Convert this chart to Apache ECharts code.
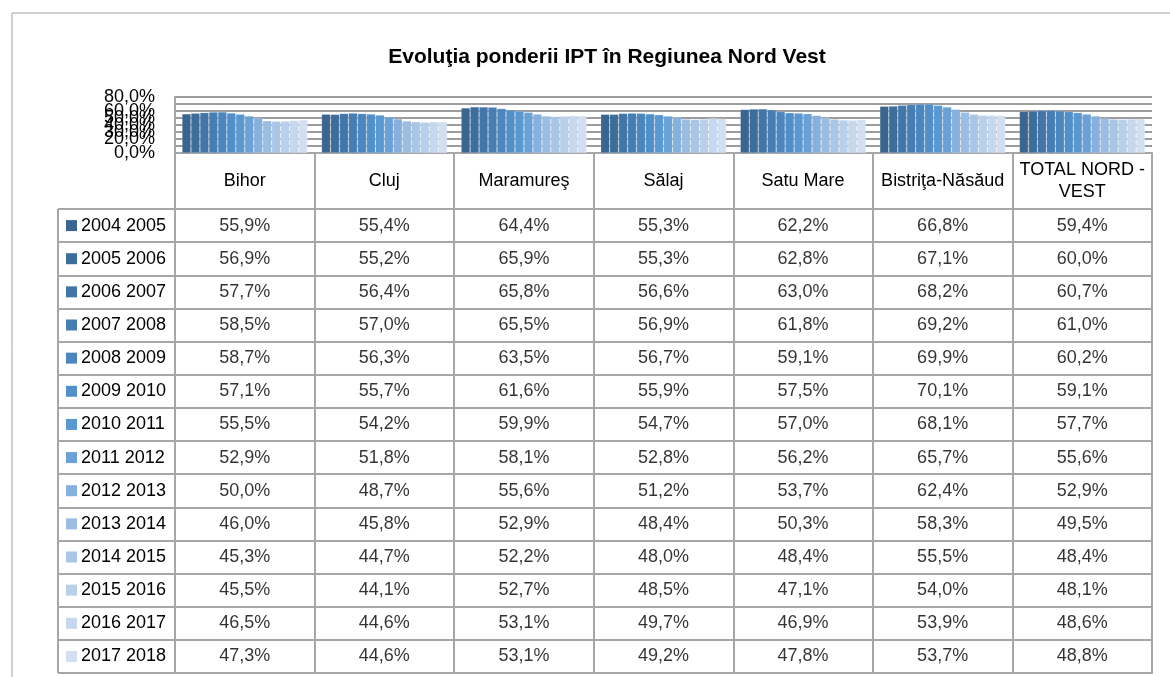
<!DOCTYPE html>
<html>
<head>
<meta charset="utf-8">
<script src="https://cdn.jsdelivr.net/npm/echarts@6/dist/echarts.min.js"></script>
<style>
  html, body { margin: 0; padding: 0; background: #fff; }
  #main { width: 1170px; height: 677px; }
</style>
</head>
<body>
<div id="main"></div>
<script>
// categorii (coloane) si ani scolari (randuri)
var regiuni = ['Bihor', 'Cluj', 'Maramureş', 'Sălaj', 'Satu Mare', 'Bistriţa-Năsăud', 'TOTAL NORD - VEST'];
var ani = ['2004 2005', '2005 2006', '2006 2007', '2007 2008', '2008 2009', '2009 2010', '2010 2011',
           '2011 2012', '2012 2013', '2013 2014', '2014 2015', '2015 2016', '2016 2017', '2017 2018'];
var yTicks = [0, 10, 20, 30, 40, 50, 60, 70, 80];

// ponderea IPT (%) pe fiecare an, in ordinea regiunilor
var an2004_2005 = [55.9, 55.4, 64.4, 55.3, 62.2, 66.8, 59.4];
var an2005_2006 = [56.9, 55.2, 65.9, 55.3, 62.8, 67.1, 60.0];
var an2006_2007 = [57.7, 56.4, 65.8, 56.6, 63.0, 68.2, 60.7];
var an2007_2008 = [58.5, 57.0, 65.5, 56.9, 61.8, 69.2, 61.0];
var an2008_2009 = [58.7, 56.3, 63.5, 56.7, 59.1, 69.9, 60.2];
var an2009_2010 = [57.1, 55.7, 61.6, 55.9, 57.5, 70.1, 59.1];
var an2010_2011 = [55.5, 54.2, 59.9, 54.7, 57.0, 68.1, 57.7];
var an2011_2012 = [52.9, 51.8, 58.1, 52.8, 56.2, 65.7, 55.6];
var an2012_2013 = [50.0, 48.7, 55.6, 51.2, 53.7, 62.4, 52.9];
var an2013_2014 = [46.0, 45.8, 52.9, 48.4, 50.3, 58.3, 49.5];
var an2014_2015 = [45.3, 44.7, 52.2, 48.0, 48.4, 55.5, 48.4];
var an2015_2016 = [45.5, 44.1, 52.7, 48.5, 47.1, 54.0, 48.1];
var an2016_2017 = [46.5, 44.6, 53.1, 49.7, 46.9, 53.9, 48.6];
var an2017_2018 = [47.3, 44.6, 53.1, 49.2, 47.8, 53.7, 48.8];

var valori = [an2004_2005, an2005_2006, an2006_2007, an2007_2008, an2008_2009, an2009_2010, an2010_2011,
              an2011_2012, an2012_2013, an2013_2014, an2014_2015, an2015_2016, an2016_2017, an2017_2018];

var culori = ['#3a6590', '#3d6d9a', '#4276a8', '#467eb4', '#4b86bf', '#518fc9', '#5a98d2',
              '#6aa1d6', '#86b0dd', '#9bbde2', '#a9c6e6', '#b8d0ea', '#c5d8ee', '#d1dff1'];

var FONT = '"Liberation Sans", Arial, sans-serif';
var FS = 18;
var GRI = '#a6a6a6';

function procent(v) {
    return v.toFixed(1).replace('.', ',') + '%';
}

var chart = echarts.init(document.getElementById('main'));

var series = [];
var celule = [];
var rich = {
    t: { fontFamily: FONT, fontSize: FS, color: '#000', padding: [0, 0, 0, 4] }
};

ani.forEach(function (an, i) {
    series.push({
        name: an,
        type: 'bar',
        xAxisIndex: 0,
        yAxisIndex: 0,
        barGap: '0%',
        barCategoryGap: '10%',
        itemStyle: { color: culori[i], borderColor: 'rgba(255,255,255,0.25)', borderWidth: 0.6 },
        data: valori[i]
    });
    rich['s' + i] = { width: 11, height: 11, backgroundColor: culori[i] };
    valori[i].forEach(function (v, j) {
        celule.push([j, i, v]);
    });
});

// textele din celulele tabelului, pozitionate pe axele categoriale
series.push({
    type: 'scatter',
    xAxisIndex: 1,
    yAxisIndex: 1,
    symbolSize: 1,
    silent: true,
    itemStyle: { color: 'rgba(0,0,0,0)' },
    label: {
        show: true,
        position: 'inside',
        fontFamily: FONT,
        fontSize: FS,
        color: '#000',
        formatter: function (p) { return procent(p.value[2]); }
    },
    data: celule
});

chart.setOption({
    animation: false,
    backgroundColor: '#fff',
    title: {
        text: 'Evoluţia ponderii IPT în Regiunea Nord Vest',
        left: 602,
        top: 42,
        textAlign: 'center',
        textStyle: { fontFamily: FONT, fontSize: 21, fontWeight: 'bold', color: '#000' }
    },
    graphic: [
        { type: 'rect', shape: { x: 12, y: 13, width: 1200, height: 700 }, style: { fill: 'none', stroke: '#a0a0a0', lineWidth: 1 }, silent: true },
        { type: 'line', shape: { x1: 58, y1: 209, x2: 58, y2: 673 }, style: { stroke: GRI, lineWidth: 2 }, silent: true }
    ],
    grid: [
        { left: 175, right: 18, top: 97, height: 56 },
        { left: 175, right: 18, top: 209, height: 464, show: true, borderColor: GRI, borderWidth: 2 }
    ],
    xAxis: [
        {
            type: 'category',
            gridIndex: 0,
            data: regiuni,
            axisLine: { lineStyle: { color: GRI, width: 2 } },
            axisTick: { show: true, interval: 0, length: 56, lineStyle: { color: GRI, width: 2 } },
            axisLabel: {
                interval: 0,
                margin: 28,
                verticalAlign: 'middle',
                fontFamily: FONT,
                fontSize: FS,
                lineHeight: 22,
                color: '#000',
                formatter: function (v) { return v.replace(' - ', ' -\n'); }
            }
        },
        {
            type: 'category',
            gridIndex: 1,
            data: regiuni,
            axisLine: { show: false },
            axisTick: { show: false },
            axisLabel: { show: false },
            splitLine: { show: true, interval: 0, lineStyle: { color: GRI, width: 2 } }
        }
    ],
    yAxis: [
        {
            type: 'value',
            gridIndex: 0,
            min: yTicks[0],
            max: yTicks[yTicks.length - 1],
            interval: 10,
            axisLine: { show: true, lineStyle: { color: GRI, width: 2 } },
            axisTick: { show: false },
            splitLine: { lineStyle: { color: '#9c9c9c', width: 2 } },
            axisLabel: {
                margin: 20,
                fontFamily: FONT,
                fontSize: FS,
                color: '#000',
                hideOverlap: false,
                showMinLabel: true,
                showMaxLabel: true,
                formatter: function (v) { return procent(v); }
            }
        },
        {
            type: 'category',
            gridIndex: 1,
            inverse: true,
            data: ani,
            axisLine: { show: true, lineStyle: { color: GRI, width: 2 } },
            axisTick: { show: true, interval: 0, length: 117, lineStyle: { color: GRI, width: 2 } },
            splitLine: { show: true, interval: 0, lineStyle: { color: GRI, width: 2 } },
            axisLabel: {
                interval: 0,
                margin: 109,
                align: 'left',
                formatter: function (v, i) { return '{s' + i + '|}{t|' + v + '}'; },
                rich: rich
            }
        }
    ],
    series: series
});
</script>
</body>
</html>
